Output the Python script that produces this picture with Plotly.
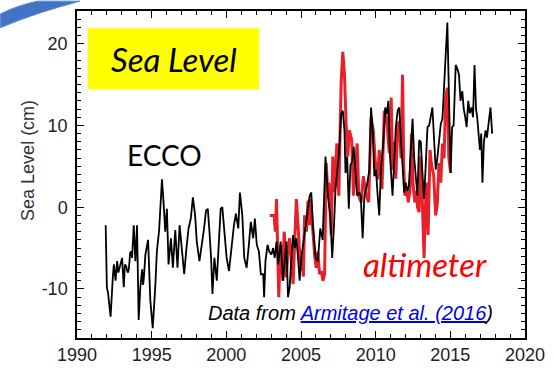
import plotly.graph_objects as go

# ---------------- data ----------------
ecco_year = [1991.92, 1992.00, 1992.08, 1992.25, 1992.40, 1992.47, 1992.58, 1992.69, 1992.77, 1992.84,
             1993.02, 1993.13, 1993.21, 1993.29, 1993.40, 1993.47, 1993.56, 1993.62, 1993.69, 1993.80,
             1993.86, 1993.91, 1994.02, 1994.13, 1994.24, 1994.30, 1994.36, 1994.42, 1994.47, 1994.58,
             1994.76, 1994.91, 1995.07, 1995.24, 1995.35, 1995.50, 1995.60, 1995.69, 1995.80, 1995.91,
             1996.02, 1996.13, 1996.29, 1996.42, 1996.58, 1996.73, 1996.87, 1997.02, 1997.18, 1997.31,
             1997.47, 1997.62, 1997.76, 1997.91, 1998.02, 1998.20, 1998.36, 1998.51, 1998.64, 1998.76,
             1998.87, 1998.98, 1999.07, 1999.20, 1999.36, 1999.47, 1999.62, 1999.73, 1999.87, 2000.02,
             2000.18, 2000.36, 2000.51, 2000.64, 2000.80, 2000.91, 2001.07, 2001.20, 2001.36, 2001.51,
             2001.64, 2001.80, 2001.91, 2002.04, 2002.18, 2002.31, 2002.47, 2002.53, 2002.62, 2002.76,
             2002.87, 2003.02, 2003.13, 2003.24, 2003.36, 2003.47, 2003.64, 2003.80, 2003.91, 2004.02,
             2004.13, 2004.24, 2004.36, 2004.47, 2004.58, 2004.69, 2004.80, 2004.91, 2005.02, 2005.24,
             2005.40, 2005.58, 2005.69, 2005.80, 2005.98, 2006.13, 2006.29, 2006.45, 2006.64, 2006.80,
             2006.96, 2007.09, 2007.20, 2007.31, 2007.42, 2007.53, 2007.69, 2007.80, 2007.91, 2007.98,
             2008.09, 2008.20, 2008.31, 2008.42, 2008.53, 2008.64, 2008.76, 2008.90, 2009.00, 2009.13,
             2009.24, 2009.40, 2009.58, 2009.69, 2009.80, 2009.91, 2010.02, 2010.13, 2010.24, 2010.35,
             2010.50, 2010.64, 2010.75, 2010.85, 2010.96, 2011.13, 2011.25, 2011.35, 2011.47, 2011.58,
             2011.70, 2011.80, 2011.91, 2012.02, 2012.12, 2012.22, 2012.35, 2012.47, 2012.58, 2012.68,
             2012.80, 2012.91, 2013.02, 2013.12, 2013.24, 2013.35, 2013.47, 2013.58, 2013.70, 2013.80,
             2013.92, 2014.02, 2014.13, 2014.25, 2014.36, 2014.47, 2014.58, 2014.70, 2014.80, 2014.92,
             2015.02, 2015.12, 2015.22, 2015.36, 2015.46, 2015.58, 2015.68, 2015.80, 2015.90, 2016.00,
             2016.09, 2016.20, 2016.30, 2016.42, 2016.52, 2016.62, 2016.72, 2016.80, 2016.90, 2016.98,
             2017.07, 2017.15, 2017.25, 2017.36, 2017.45, 2017.55, 2017.69, 2017.80]
ecco_cm = [-2.2, -9.8, -10.5, -13.4, -8.5, -7.0, -9.0, -6.6, -8.0, -7.5,
           -6.2, -9.8, -7.0, -7.2, -8.0, -7.6, -5.6, -5.4, -6.2, -2.2,
           -5.0, -6.6, -2.2, -13.8, -9.8, -8.6, -7.6, -9.5, -8.8, -5.8,
           -4.0, -11.4, -14.8, -9.8, -5.4, -2.8, 0.6, 3.4, 0.5, -3.0,
           -0.2, -7.0, -3.8, -7.4, -2.8, -7.4, -2.2, -5.0, -8.2, -5.4,
           -2.6, -1.4, 1.2, -1.0, -4.2, -6.6, -4.6, -2.6, -0.4, -0.2,
           -3.0, -6.2, -10.6, -6.2, -9.0, -5.0, -0.2, 0.0, -3.4, -6.2,
           -7.8, -4.6, -2.2, -0.8, -2.6, 1.8, -1.0, -6.2, -7.4, -4.6,
           -1.8, -3.8, -1.4, -4.6, -5.4, -8.2, -8.2, -11.0, -6.6, -4.6,
           -5.4, -5.8, -5.0, -6.2, -4.2, -7.0, -4.2, -9.0, -6.2, -4.2,
           -11.0, -9.8, -6.2, -3.4, -5.0, -3.8, -6.2, -9.0, -6.2, -3.4,
           -1.0, 1.4, 1.8, -2.2, -6.2, -6.6, -2.6, -4.0, 6.2, 1.4,
           -1.0, -6.2, -2.6, 2.2, 4.2, 6.2, 11.4, 11.8, 9.4, 4.2,
           6.2, -0.2, 5.2, 5.5, 7.4, 5.0, 1.4, 1.8, 1.4, -3.8,
           1.4, 2.5, 4.6, 12.2, 9.4, 3.8, 4.6, 1.5, -1.0, 4.6,
           7.6, 12.2, 11.4, 13.0, 6.2, 1.4, 6.0, 9.8, 11.8, 12.2,
           8.0, 4.6, 1.8, 3.0, 2.0, 2.5, 7.0, 10.8, 6.0, 4.2,
           1.4, 8.2, 8.0, 4.5, 1.0, 5.0, 9.8, 10.0, 11.0, 12.2,
           8.0, 4.6, 6.0, 8.0, 10.2, 10.8, 15.8, 19.0, 22.6, 10.2,
           4.2, 9.8, 10.0, 17.4, 17.0, 16.2, 13.0, 14.2, 12.0, 11.0,
           9.8, 13.0, 11.5, 12.2, 11.0, 17.4, 12.0, 11.0, 9.0, 7.0,
           9.0, 3.0, 8.0, 9.4, 8.5, 10.0, 12.2, 9.0]

alt_year = [2002.91, 2003.20, 2003.28, 2003.36, 2003.51, 2003.60, 2003.69, 2003.78, 2003.87, 2003.95,
            2004.02, 2004.13, 2004.24, 2004.36, 2004.47, 2004.58, 2004.69, 2004.80, 2004.90, 2004.98,
            2005.08, 2005.16, 2005.24, 2005.36, 2005.47, 2005.56, 2005.64, 2005.72, 2005.80, 2005.92,
            2006.02, 2006.13, 2006.24, 2006.36, 2006.47, 2006.58, 2006.69, 2006.79, 2006.87, 2007.02,
            2007.13, 2007.24, 2007.40, 2007.53, 2007.69, 2007.80, 2007.91, 2008.02, 2008.13, 2008.24,
            2008.40, 2008.51, 2008.64, 2008.76, 2008.87, 2009.02, 2009.18, 2009.36, 2009.53, 2009.69,
            2009.84, 2009.98, 2010.13, 2010.24, 2010.42, 2010.58, 2010.73, 2010.91, 2011.04, 2011.13,
            2011.25, 2011.35, 2011.47, 2011.58, 2011.70, 2011.80, 2011.88, 2011.96, 2012.07, 2012.18,
            2012.30, 2012.40, 2012.50, 2012.62, 2012.72, 2012.80, 2012.91, 2013.02, 2013.12, 2013.24,
            2013.33, 2013.42, 2013.51, 2013.64, 2013.75, 2013.88, 2014.02, 2014.13, 2014.24, 2014.36,
            2014.47, 2014.58, 2014.69, 2014.80, 2014.90, 2015.02]
alt_cm = [-1.0, -1.0, -3.0, 1.0, -11.0, -6.0, -4.6, -9.0, -3.0, -5.0,
          -8.6, -5.0, -3.8, -6.5, -9.4, -4.0, 1.0, -2.2, -5.0, -7.8,
          -5.5, -8.5, -1.0, -3.0, 0.8, -2.2, 1.0, -1.5, -3.0, -6.0,
          -7.4, -5.4, -8.2, -7.8, -9.0, -8.2, 5.4, 2.0, 3.0, -3.4,
          6.2, 1.8, 7.8, 1.4, 15.4, 19.0, 16.2, 10.2, 6.2, 9.4,
          8.2, 1.4, 4.6, 7.8, 1.4, 0.6, 3.8, 1.4, 0.6, 11.0,
          9.4, 5.4, 3.4, 7.0, 2.2, 11.8, 11.0, 6.6, 13.4, 4.6,
          8.0, 3.5, 10.0, 10.5, 6.0, 16.2, 5.0, 1.4, 2.5, 0.6,
          2.0, 9.0, 3.0, 0.6, 2.0, 0.0, -0.6, 6.2, 1.0, -6.2,
          0.0, 3.0, -3.4, 7.0, 5.0, 4.0, -1.0, 0.5, 5.4, 3.0,
          7.8, 6.0, 13.4, 14.6, 6.0, 4.2]

x_tickvals = [1990, 1995, 2000, 2005, 2010, 2015, 2020]
x_ticktext = ["1990", "1995", "2000", "2005", "2010", "2015", "2020"]
y_tickvals = [-10, 0, 10, 20]
y_ticktext = ["-10", "0", "10", "20"]

# ---------------- figure ----------------
W, H = 554, 374
ML, MR, MT, MB = 77, 27, 9, 33
PW, PH = W - ML - MR, H - MT - MB


def pxx(x):
    return (x - ML) / PW


def pxy(y):
    return (H - MB - y) / PH


fig = go.Figure()
fig.add_trace(go.Scatter(x=alt_year, y=alt_cm, mode="lines",
                         line=dict(color="#e8202a", width=3), name="altimeter"))
fig.add_trace(go.Scatter(x=ecco_year, y=ecco_cm, mode="lines",
                         line=dict(color="black", width=1.8), name="ECCO"))

tickfont = dict(family="Liberation Sans, Arial, sans-serif", size=18, color="#222222")
axis_common = dict(
    showline=True, linecolor="black", linewidth=1.5, mirror="ticks",
    ticks="inside", ticklen=7, tickwidth=1.2, tickcolor="black",
    showgrid=False, zeroline=False, tickfont=tickfont,
)

fig.update_layout(
    width=W, height=H,
    margin=dict(l=ML, r=MR, t=MT, b=MB),
    paper_bgcolor="white", plot_bgcolor="white",
    showlegend=False,
    xaxis=dict(range=[1990, 2020], tickvals=x_tickvals, ticktext=x_ticktext,
               minor=dict(dtick=1, tick0=1990, ticks="inside", ticklen=4, tickcolor="black", tickwidth=1),
               **axis_common),
    yaxis=dict(range=[-16, 24], tickvals=y_tickvals, ticktext=y_ticktext, ticklabelstandoff=4,
               minor=dict(dtick=1, tick0=0, ticks="inside", ticklen=4, tickcolor="black", tickwidth=1),
               **axis_common),
)

# yellow title box
fig.add_shape(type="rect", xref="x", yref="y", x0=1990.73, x1=2002.2, y0=14.4, y1=21.9,
              fillcolor="#ffff00", line=dict(width=0), layer="above")

# decorative blue arc at top-left corner
path = "M {} {} Q {} {} {} {} L {} {} Q {} {} {} {} Z".format(
    pxx(0), pxy(12), pxx(15), pxy(4), pxx(37), pxy(-1),
    pxx(80), pxy(-1), pxx(35), pxy(11), pxx(0), pxy(26))
fig.add_shape(type="path", xref="paper", yref="paper", path=path,
              fillcolor="#4472c4", line=dict(color="#5b8ad6", width=1), layer="above")

fig.add_annotation(x=1996.47, y=18.1, xref="x", yref="y", text="<i>Sea Level</i>",
                   xanchor="center", yanchor="middle",
                   showarrow=False, font=dict(family="Lato, sans-serif", size=33, color="black"))
fig.add_annotation(x=1995.87, y=6.4, xref="x", yref="y", text="ECCO",
                   xanchor="center", yanchor="middle",
                   showarrow=False, font=dict(family="Lato, sans-serif", size=28, color="black"))
fig.add_annotation(x=2013.27, y=-6.9, xref="x", yref="y", text="<i>altimeter</i>",
                   xanchor="center", yanchor="middle",
                   showarrow=False, font=dict(family="Lato, sans-serif", size=33, color="#ff0000"))
fig.add_annotation(x=2008.33, y=-13.0, xref="x", yref="y",
                   text="<i>Data from <span style='color:#0000ee'><u>Armitage et al. (2016</u></span>)</i>",
                   xanchor="center", yanchor="middle",
                   showarrow=False, font=dict(family="Liberation Sans, Arial, sans-serif", size=20, color="black"))
fig.add_annotation(x=pxx(27), y=pxy(161), xref="paper", yref="paper", text="Sea Level (cm)",
                   xanchor="center", yanchor="middle", textangle=-90, showarrow=False,
                   font=dict(family="Liberation Sans, Arial, sans-serif", size=18, color="#333333"))

fig.write_html("out.html")
